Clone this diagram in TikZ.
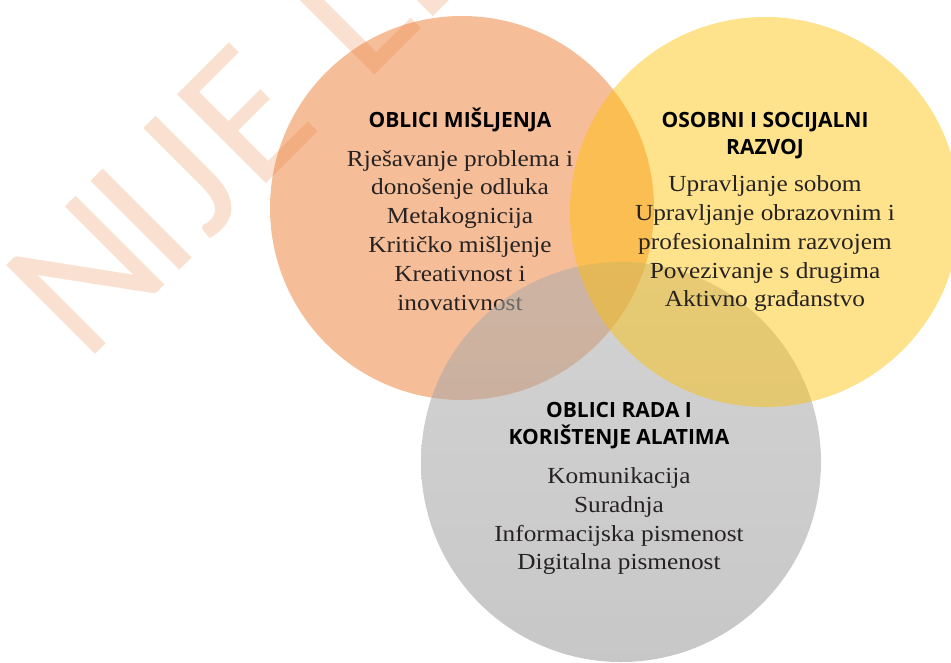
\documentclass[tikz,border=0pt]{standalone}
\usepackage{fontspec}
\setmainfont{Liberation Serif}[FakeStretch=1.1]
\newfontfamily\headfont{Open Sans}
\newfontfamily\markfont{Carlito}

\definecolor{circorange}{RGB}{237,125,49}
\definecolor{circyellow}{RGB}{255,192,0}
\definecolor{graytop}{RGB}{172,172,172}
\definecolor{graybottom}{RGB}{150,150,150}
\definecolor{marktext}{RGB}{249,224,208}
\definecolor{bodytext}{RGB}{38,34,34}

\begin{document}
\begin{tikzpicture}[x=1pt, y=-1pt,
	heading/.style={font=\headfont\bfseries\fontsize{21}{27}\selectfont, align=center, inner sep=0pt},
	items/.style={font=\fontsize{23}{28.8}\selectfont, text=bodytext, align=center, inner sep=0pt, anchor=north},
	wmark/.style={font=\markfont\fontsize{196}{196}\selectfont, text=marktext, rotate=45, anchor=base west, inner sep=0pt}]

	\useasboundingbox (0,0) rectangle (951,662);

	\begin{scope}[shift={(97,353)}, rotate=45]
	\foreach \ch/\s [count=\i] in {N/-16, I/101, J/158, E/225, L/379, E/461}
		\node[wmark] (wm\i) at (\s,0) {\ch};
	\end{scope}

	\coordinate (misljenje) at (462,208);
	\coordinate (razvoj) at (765,212);
	\coordinate (rad) at (621,462);

	\fill[circorange, fill opacity=0.5] (misljenje) circle[radius=192pt];
	\node[heading, anchor=base] (mish) at (460,127) {OBLICI MIŠLJENJA};
	\node[items] (misl) at (460,149.8) {Rješavanje problema i\\donošenje odluka\\Metakognicija\\Kritičko mišljenje\\Kreativnost i\\inovativnost};

	\shade[top color=graytop, bottom color=graybottom, fill opacity=0.53] (rad) circle[radius=200pt];

	\fill[circyellow, fill opacity=0.45] (razvoj) circle[radius=195pt];
	\node[heading, anchor=north] (razh) at (765,111.7) {OSOBNI I SOCIJALNI\\RAZVOJ};
	\node[items] (razl) at (765,175.5) {Upravljanje sobom\\Upravljanje obrazovnim i\\profesionalnim razvojem\\Povezivanje s drugima\\Aktivno građanstvo};

	\node[heading, anchor=north] (radh) at (619,401.7) {OBLICI RADA I\\KORIŠTENJE ALATIMA};
	\node[items] (radl) at (619,467.3) {Komunikacija\\Suradnja\\Informacijska pismenost\\Digitalna pismenost};

\end{tikzpicture}
\end{document}
